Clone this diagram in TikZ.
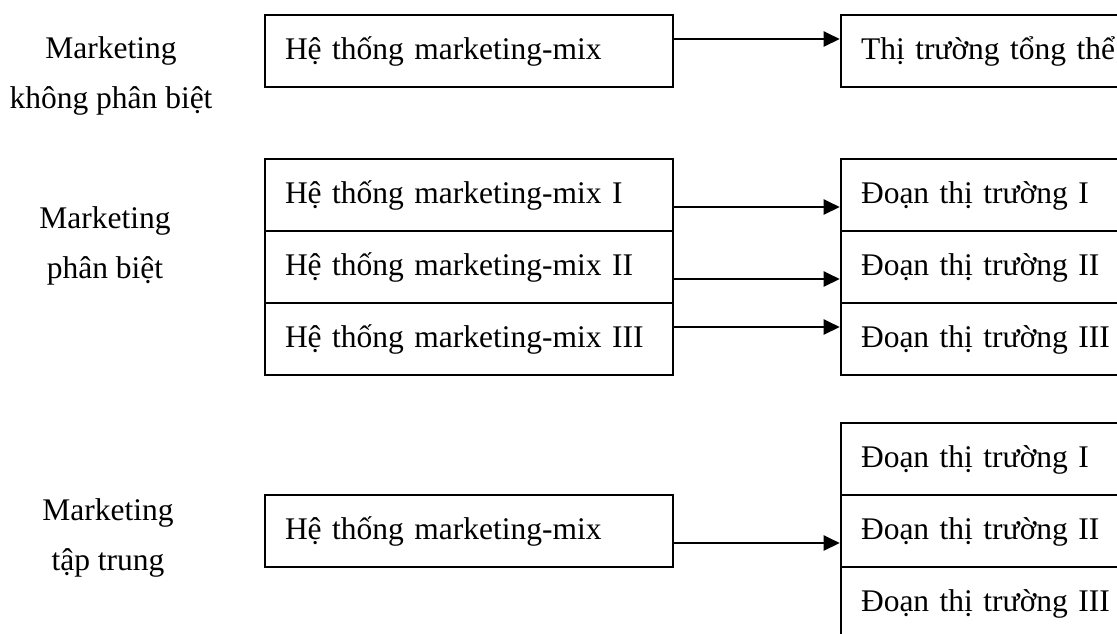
\documentclass[tikz,border=0pt]{standalone}
\usepackage{fontspec}
\setmainfont{Liberation Serif}
\usetikzlibrary{arrows.meta}
\tikzset{
  cell/.style={draw, line width=2.6pt, minimum height=72pt, inner xsep=20pt, inner ysep=0pt,
    text height=24pt, text depth=7pt, align=left, font=\fontsize{31.5}{38}\selectfont},
  mixbox/.style={cell, text width=368pt},
  segbox/.style={cell, text width=280pt},
  grouplabel/.style={align=center, font=\fontsize{31.5}{50}\selectfont, anchor=base, inner sep=0pt},
  link/.style={line width=2.4pt, -{Triangle[length=16pt,width=15pt]}},
}
\begin{document}
\begin{tikzpicture}[x=1pt, y=-1pt]
  \path[use as bounding box, clip] (0,0) rectangle (1117,633);

  % strategy labels (anchored at the baseline of their second line)
  \node[grouplabel] (lblA) at (111,108) {Marketing\\không phân biệt};
  \node[grouplabel] (lblB) at (105,278) {Marketing\\phân biệt};
  \node[grouplabel] (lblC) at (108,570) {Marketing\\tập trung};

  % undifferentiated marketing
  \node[mixbox] (mixA) at (469,51) {Hệ thống marketing-mix};
  \node[segbox] (whole) at (1001,51) {Thị trường tổng thể};
  \draw[link] ([yshift=12pt]mixA.east) -- ([yshift=12pt]whole.west);

  % differentiated marketing
  \node[mixbox] (mixB1) at (469,195) {Hệ thống marketing-mix I};
  \node[mixbox] (mixB2) at (469,267) {Hệ thống marketing-mix II};
  \node[mixbox] (mixB3) at (469,339) {Hệ thống marketing-mix III};
  \node[segbox] (segB1) at (1001,195) {Đoạn thị trường I};
  \node[segbox] (segB2) at (1001,267) {Đoạn thị trường II};
  \node[segbox] (segB3) at (1001,339) {Đoạn thị trường III};
  \draw[link] ([yshift=-12pt]mixB1.east) -- ([yshift=-12pt]segB1.west);
  \draw[link] ([yshift=-12pt]mixB2.east) -- ([yshift=-12pt]segB2.west);
  \draw[link] ([yshift=12pt]mixB3.east) -- ([yshift=12pt]segB3.west);

  % concentrated marketing
  \node[mixbox] (mixC) at (469,531) {Hệ thống marketing-mix};
  \node[segbox] (segC1) at (1001,459) {Đoạn thị trường I};
  \node[segbox] (segC2) at (1001,531) {Đoạn thị trường II};
  \node[segbox] (segC3) at (1001,603) {Đoạn thị trường III};
  \draw[link] ([yshift=-12pt]mixC.east) -- ([yshift=-12pt]segC2.west);
\end{tikzpicture}
\end{document}
